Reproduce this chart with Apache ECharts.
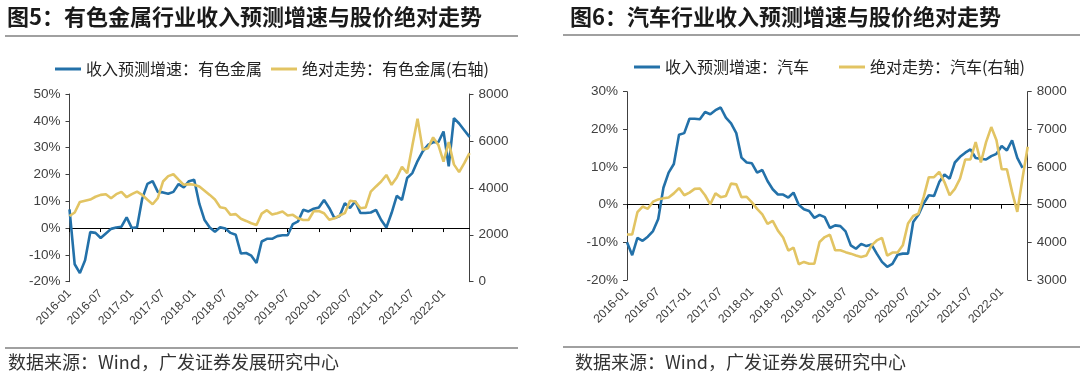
<!DOCTYPE html>
<html><head><meta charset="utf-8">
<script src="https://cdn.jsdelivr.net/npm/echarts@6/dist/echarts.min.js"></script>
<style>html,body{margin:0;padding:0;background:#fff}#c{width:1080px;height:385px}</style>
</head><body><div id="c"></div>
<script>
// ---- data ----
const categories = [];
for (let y = 2016; y <= 2022; y++) {
  for (let m = 1; m <= 12; m++) {
    if (y === 2022 && m > 6) break;
    categories.push(y + '-' + String(m).padStart(2, '0'));
  }
}
// 图5 有色金属
const metalRevenueGrowth = [
  7, -13.5, -16.8, -12, -1.5, -1.8, -3.7, -2, -0.3, 0.2,
  0.5, 4, 0, 0.3, 11, 16.5, 17.5, 13.5, 13.3, 12.8,
  13.5, 16.4, 15.2, 17.5, 18, 9, 3, 0.2, -1.4, 0.3,
  -0.2, -1.8, -2.5, -9.5, -9.3, -10.3, -13, -5, -4, -4,
  -3, -2.7, -2.7, 1.5, 2.5, 6.8, 6.2, 7.2, 7.7, 10.5,
  7.5, 3.7, 4.5, 9.3, 7.5, 10, 5.6, 5.6, 5.8, 6.8,
  3, 0.2, 5.6, 12, 10.5, 18.7, 20.5, 25, 28.6, 31,
  32, 32, 36, 23, 41, 39, 36.5, 34
];
const metalPrice = [
  2800, 2950, 3400, 3450, 3500, 3620, 3700, 3730, 3560, 3730,
  3830, 3600, 3730, 3840, 3700, 3490, 3300, 3560, 4270, 4500,
  4580, 4350, 4130, 4160, 4130, 4060, 3880, 3700, 3500, 3170,
  3130, 2850, 2880, 2680, 2590, 2490, 2420, 2900, 3050, 2860,
  2920, 2990, 2820, 2850, 2700, 2630, 2630, 3000, 3010, 2920,
  2640, 2700, 2820, 2920, 3450, 3420, 3130, 3160, 3840, 4060,
  4270, 4550, 4130, 4440, 4900, 4620, 5800, 6950, 5620, 5690,
  6150, 5830, 5120, 5950, 5000, 4670, 5050, 5480
];
// 图6 汽车
const autoRevenueGrowth = [
  -10, -13.4, -8.8, -9.6, -8.5, -7, -3.8, 4.5, 8.5, 10.8,
  18.6, 19, 22.8, 22.8, 22.7, 24.6, 24, 25.1, 25.8, 23.1,
  21.6, 19, 12.5, 11.2, 11, 8.5, 9.2, 6.3, 4.1, 2.7,
  2.7, 1.9, 3.2, 0, -1.2, -1.7, -3.5, -2.7, -3.3, -6.2,
  -5.5, -5.7, -7.1, -10.8, -11.7, -10.4, -11, -10.6, -13, -15.2,
  -16.5, -15.7, -13.3, -13, -13, -4.6, -2.7, 0.3, 2.5, 2.3,
  6, 8, 6.9, 11.2, 12.7, 13.8, 14.7, 12.4, 12.2, 12,
  12.9, 13.5, 15.6, 14.4, 17.1, 12.4, 9.8, null
];
const autoPrice = [
  4210, 4210, 4800, 4950, 4890, 5080, 5140, 5170, 5190, 5300,
  5440, 5250, 5320, 5420, 5430, 5250, 5010, 5300, 5200, 5230,
  5560, 5540, 5200, 5210, 5060, 4890, 4740, 4490, 4570, 4310,
  4130, 3780, 3860, 3420, 3480, 3430, 3430, 4010, 4140, 4200,
  3790, 3790, 3740, 3700, 3650, 3610, 3650, 3920, 4050, 4120,
  3650, 3730, 3730, 3920, 4500, 4700, 4760, 5200, 5730, 5730,
  5870, 5600, 5250, 5420, 5690, 6200, 6200, 6660, 6120, 6660,
  7060, 6710, 5940, 5940, 5340, 4810, 5700, 6540
];
const leftPctTicks = { min: -20, max: 50, interval: 10 };
const leftPriceTicks = { min: 0, max: 8000, interval: 2000 };
const rightPctTicks = { min: -20, max: 30, interval: 10 };
const rightPriceTicks = { min: 3000, max: 8000, interval: 1000 };

// ---- style ----
const AX = '#404040';
const FONT = '"Liberation Sans", Arial, sans-serif';
const CJK = '"Noto Sans CJK SC", sans-serif';
const BLUE = '#2371A9', GOLD = '#E2C463';

function yAx(grid, pos, t, pct) {
  return {
    type: 'value', gridIndex: grid, position: pos, min: t.min, max: t.max, interval: t.interval,
    axisLine: { show: true, onZero: false, lineStyle: { color: AX, width: 1 } },
    axisTick: { show: true, length: 4, lineStyle: { color: AX } },
    axisLabel: { color: AX, fontSize: 13.5, fontFamily: FONT, margin: 9,
      formatter: pct ? (v => v + '%') : (v => String(v)) },
    splitLine: { show: false }
  };
}
function xLab(grid) {
  return {
    type: 'category', gridIndex: grid, data: categories, boundaryGap: false, position: 'bottom',
    axisLine: { show: false, onZero: false }, axisTick: { show: false },
    axisLabel: { interval: 5, rotate: 45, fontSize: 12, color: AX, fontFamily: FONT, margin: 10 },
    splitLine: { show: false }
  };
}
function xZero(grid, yIdx) {
  return {
    type: 'category', gridIndex: grid, data: categories, boundaryGap: false, position: 'bottom',
    axisLine: { show: true, onZero: true, onZeroAxisIndex: yIdx, lineStyle: { color: '#000', width: 1.2 } },
    axisTick: { show: true, interval: 5, length: 4, lineStyle: { color: '#000' } },
    axisLabel: { show: false }, splitLine: { show: false }
  };
}
function line(name, xi, yi, data, color) {
  return { name, type: 'line', xAxisIndex: xi, yAxisIndex: yi, data, symbol: 'none', showSymbol: false,
    connectNulls: false, lineStyle: { color, width: 2.6 }, itemStyle: { color } };
}

const chart = echarts.init(document.getElementById('c'), null, { renderer: 'canvas' });
chart.setOption({
  animation: false,
  backgroundColor: '#fff',
  grid: [
    { left: 69.5, top: 94, width: 400, height: 187.7, outerBoundsMode: 'none', containLabel: false },
    { left: 627, top: 91.7, width: 400.7, height: 188.3, outerBoundsMode: 'none', containLabel: false }
  ],
  xAxis: [xLab(0), xZero(0, 0), xLab(1), xZero(1, 2)],
  yAxis: [
    yAx(0, 'left', leftPctTicks, true),
    yAx(0, 'right', leftPriceTicks, false),
    yAx(1, 'left', rightPctTicks, true),
    yAx(1, 'right', rightPriceTicks, false)
  ],
  legend: [
    { left: 50, top: 56, icon: 'rect', itemWidth: 26, itemHeight: 3, itemGap: 9,
      textStyle: { fontSize: 16, color: '#222', fontFamily: CJK },
      data: ['收入预测增速：有色金属', '绝对走势：有色金属(右轴)'] },
    { left: 629, top: 54, icon: 'rect', itemWidth: 26, itemHeight: 3, itemGap: 30,
      textStyle: { fontSize: 16, color: '#222', fontFamily: CJK },
      data: ['收入预测增速：汽车', '绝对走势：汽车(右轴)'] }
  ],
  graphic: [
    { type: 'text', left: 7, top: 6, style: { text: '图5：有色金属行业收入预测增速与股价绝对走势',
      font: 'bold 22px "Noto Sans CJK SC"', fill: '#1a1a1a' } },
    { type: 'line', shape: { x1: 5, y1: 36, x2: 518, y2: 36 }, style: { stroke: '#808080', lineWidth: 1.5 } },
    { type: 'line', shape: { x1: 5, y1: 348, x2: 518, y2: 348 }, style: { stroke: '#808080', lineWidth: 1.5 } },
    { type: 'text', left: 8, top: 353, style: { text: '数据来源：Wind，广发证券发展研究中心',
      font: '18px "Noto Sans CJK SC"', fill: '#333' } },
    { type: 'text', left: 570, top: 6, style: { text: '图6：汽车行业收入预测增速与股价绝对走势',
      font: 'bold 22px "Noto Sans CJK SC"', fill: '#1a1a1a' } },
    { type: 'line', shape: { x1: 563, y1: 35, x2: 1080, y2: 35 }, style: { stroke: '#808080', lineWidth: 1.5 } },
    { type: 'line', shape: { x1: 563, y1: 347, x2: 1080, y2: 347 }, style: { stroke: '#808080', lineWidth: 1.5 } },
    { type: 'text', left: 575, top: 353, style: { text: '数据来源：Wind，广发证券发展研究中心',
      font: '18px "Noto Sans CJK SC"', fill: '#333' } }
  ],
  series: [
    line('收入预测增速：有色金属', 0, 0, metalRevenueGrowth, BLUE),
    line('绝对走势：有色金属(右轴)', 0, 1, metalPrice, GOLD),
    line('收入预测增速：汽车', 2, 2, autoRevenueGrowth, BLUE),
    line('绝对走势：汽车(右轴)', 2, 3, autoPrice, GOLD)
  ]
});
</script>
</body></html>
